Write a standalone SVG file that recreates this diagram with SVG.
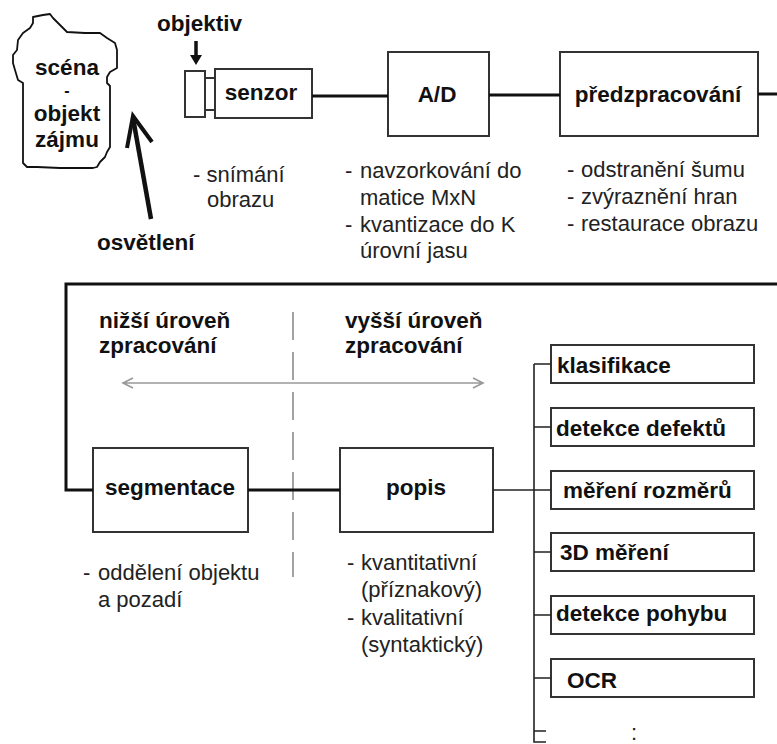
<svg xmlns="http://www.w3.org/2000/svg" width="777" height="744" viewBox="0 0 777 744">
<style>
.box{fill:#fff;stroke:#333;stroke-width:2}
.b{font-family:"Liberation Sans",Arial,sans-serif;font-weight:bold;font-size:22.5px;fill:#111}
.t{font-family:"Liberation Sans",Arial,sans-serif;font-size:22px;fill:#222}
.con{fill:none;stroke:#111;stroke-width:3}
.thin{fill:none;stroke:#222;stroke-width:1.6}
.gray{fill:none;stroke:#999;stroke-width:1.6}
</style>
<rect width="777" height="744" fill="#fff"/>

<g id="scena">
<path d="M33,17 L43,15 L50,14 L53,18 L60,25 L67,32 L85,33 L100,33 L107,38 L115,43 L117,50 L117,68 L110,72 L107,77 L107,83 L110,86 L110,147 L107,152 L105,157 L100,162 L97,167 L93,168 L60,168 L37,167 L27,167 L23,163 L23,83 L18,80 L15,70 L13,63 L13,55 L17,50 L18,40 L23,33 L30,28 L33,23 Z" fill="#fff" stroke="#111" stroke-width="1.8" stroke-linejoin="round"/>
<text class="b" x="67" y="75" text-anchor="middle">scéna</text>
<text class="b" x="67" y="96" text-anchor="middle" style="font-size:16px">-</text>
<text class="b" x="67" y="121" text-anchor="middle">objekt</text>
<text class="b" x="67" y="147" text-anchor="middle">zájmu</text>
</g>

<g id="osvetleni">
<path d="M151,219 L133,118" fill="none" stroke="#111" stroke-width="4.5"/>
<path d="M127,148 L133,116 L152,142" fill="none" stroke="#111" stroke-width="4"/>
<text class="b" x="97" y="250">osvětlení</text>
</g>

<g id="objektiv">
<text class="b" x="157" y="31">objektiv</text>
<path d="M196,41 L196,56" stroke="#111" stroke-width="3.5"/>
<path d="M190,55 L202,55 L196,65 Z" fill="#111"/>
<rect class="box" x="185" y="71" width="20" height="46"/>
<rect class="box" x="205" y="78" width="10" height="32"/>
</g>

<g id="senzor">
<rect class="box" x="215" y="69" width="97" height="49"/>
<text class="b" x="261" y="100" text-anchor="middle">senzor</text>
<text class="t" x="193" y="182">- snímání</text>
<text class="t" x="207" y="207">obrazu</text>
</g>

<g id="ad">
<rect class="box" x="388" y="52" width="101" height="84"/>
<text class="b" x="437" y="102" text-anchor="middle">A/D</text>
<text class="t" x="345" y="178">-</text>
<text class="t" x="360" y="178">navzorkování do</text>
<text class="t" x="360" y="205">matice MxN</text>
<text class="t" x="345" y="232">-</text>
<text class="t" x="360" y="232">kvantizace do K</text>
<text class="t" x="360" y="258">úrovní jasu</text>
</g>

<g id="predzpracovani">
<rect class="box" x="560" y="52" width="198" height="84"/>
<text class="b" x="658" y="102" text-anchor="middle">předzpracování</text>
<text class="t" x="567" y="177">-</text>
<text class="t" x="581" y="177">odstranění šumu</text>
<text class="t" x="567" y="204">-</text>
<text class="t" x="581" y="204">zvýraznění hran</text>
<text class="t" x="567" y="231">-</text>
<text class="t" x="581" y="231">restaurace obrazu</text>
</g>

<g id="urovne">
<text class="b" x="99" y="328">nižší úroveň</text>
<text class="b" x="99" y="353">zpracování</text>
<text class="b" x="345" y="328">vyšší úroveň</text>
<text class="b" x="345" y="353">zpracování</text>
<path d="M293,312 L293,577" stroke="#999" stroke-width="1.8" stroke-dasharray="28,12" fill="none"/>
<path class="gray" d="M123,383 L483,383 M133,378 L123,383 L133,388 M473,378 L483,383 L473,388"/>
</g>

<g id="segmentace">
<rect class="box" x="93" y="448" width="155" height="84"/>
<text class="b" x="170" y="495" text-anchor="middle">segmentace</text>
<text class="t" x="83" y="580">-</text>
<text class="t" x="98" y="580">oddělení objektu</text>
<text class="t" x="98" y="607">a pozadí</text>
</g>

<g id="popis">
<rect class="box" x="340" y="448" width="153" height="84"/>
<text class="b" x="416" y="495" text-anchor="middle">popis</text>
<text class="t" x="347" y="570">-</text>
<text class="t" x="361" y="570">kvantitativní</text>
<text class="t" x="361" y="597">(příznakový)</text>
<text class="t" x="347" y="625">-</text>
<text class="t" x="361" y="625">kvalitativní</text>
<text class="t" x="361" y="652">(syntaktický)</text>
</g>

<g id="klasifikace"><rect class="box" x="551" y="345" width="203" height="38"/><text class="b" x="557" y="373">klasifikace</text></g>
<g id="detekce-defektu"><rect class="box" x="551" y="408" width="203" height="38"/><text class="b" x="556" y="436">detekce defektů</text></g>
<g id="mereni-rozmeru"><rect class="box" x="551" y="471" width="203" height="38"/><text class="b" x="563" y="498">měření rozměrů</text></g>
<g id="mereni-3d"><rect class="box" x="551" y="533" width="203" height="38"/><text class="b" x="560" y="560">3D měření</text></g>
<g id="detekce-pohybu"><rect class="box" x="551" y="596" width="203" height="38"/><text class="b" x="556" y="621">detekce pohybu</text></g>
<g id="ocr"><rect class="box" x="551" y="659" width="203" height="38"/><text class="b" x="567" y="688">OCR</text></g>
<g id="dalsi"><text class="t" x="631" y="740">:</text></g>

<g id="connectors">
<path class="con" d="M312,96 L388,96"/>
<path class="con" d="M489,95 L560,95"/>
<path class="con" d="M758,94 L777,94"/>
<path class="con" d="M777,284 L66,284 L66,490 L93,490"/>
<path class="con" d="M248,490 L340,490"/>
<path class="thin" d="M493,490 L551,490"/>
<path class="thin" d="M534,364 L534,742 L546,742 M534,731 L546,731"/>
<path class="thin" d="M534,364 L551,364 M534,427 L551,427 M534,552 L551,552 M534,615 L551,615 M534,678 L551,678"/>
</g>
</svg>
